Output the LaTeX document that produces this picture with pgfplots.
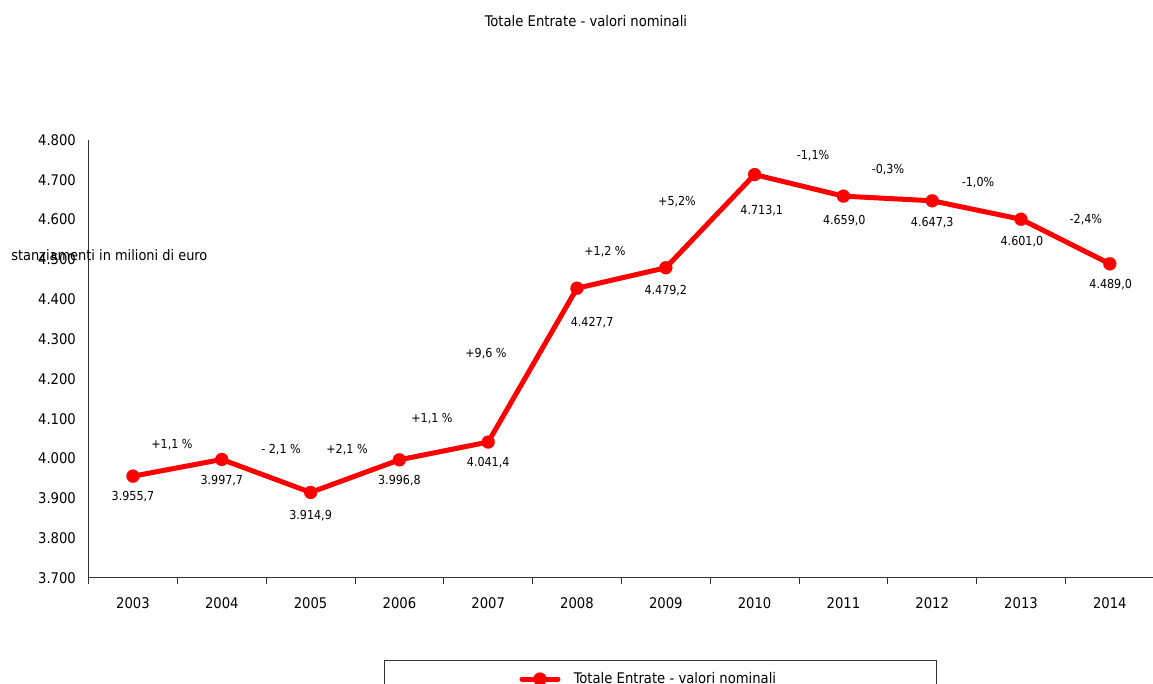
\documentclass[border=0pt]{standalone}
\usepackage{pgfplots}
\pgfplotsset{compat=1.18}
\usepackage{fontspec}
\setmainfont{DejaVu Sans Condensed}
\definecolor{serie}{HTML}{FF0000}
\begin{document}
\begin{tikzpicture}
\path[use as bounding box] (0pt,0pt) rectangle (864.75pt,513pt);
\node[font=\fontsize{11}{13}\selectfont] at (439.5pt,497.25pt) {Totale Entrate - valori nominali};
\begin{axis}[
  at={(66.45pt,79.5pt)}, anchor=south west,
  scale only axis, width=799.2pt, height=328.5pt,
  xmin=-0.5, xmax=11.5, ymin=3700, ymax=4800,
  clip=false,
  axis x line*=bottom, axis y line*=left,
  axis line style={black!80, line width=0.75pt},
  xtick={0,...,11},
  xticklabels={2003,2004,2005,2006,2007,2008,2009,2010,2011,2012,2013,2014},
  minor xtick={-0.5,0.5,...,11.5},
  ytick={3700,3800,...,4800},
  tick align=outside,
  major tick length=0pt,
  minor tick length=4.5pt,
  ytick style={black!80, line width=0.75pt},
  minor tick style={black!80, line width=0.75pt},
  yticklabel style={/pgf/number format/1000 sep={.}, /pgf/number format/assume math mode=true, xshift=-6pt, font=\fontsize{11}{13}\selectfont},
  xticklabel style={yshift=-11pt, font=\fontsize{11}{13}\selectfont},
  legend style={at={(0.2772,-0.1872)}, anchor=north west, draw=black!80, line width=0.75pt,
    inner xsep=101.25pt, inner ysep=7pt, font=\fontsize{11}{13}\selectfont},
  legend image code/.code={\draw[mark repeat=2,mark phase=2,#1] plot coordinates {(0pt,0pt) (13.5pt,0pt) (27pt,0pt)};},
]
\addplot[color=serie, line width=3.75pt, line join=round, line cap=round, mark=*, mark size=4.9pt, mark options={solid, fill=serie, draw=serie, line width=0.1pt}]
  coordinates {(0,3955.7) (1,3997.7) (2,3914.9) (3,3996.8) (4,4041.4) (5,4427.7) (6,4479.2) (7,4713.1) (8,4659.0) (9,4647.3) (10,4601.0) (11,4489.0)};
\addlegendentry{\kern8pt Totale Entrate - valori nominali\hspace*{17pt}\mbox{}}
% value labels
\begin{scope}[every node/.style={font=\fontsize{9.3}{11}\selectfont, inner sep=0pt}]
\node at (axis cs:0,3903.4) {3.955,7};
\node at (axis cs:1,3943.6) {3.997,7};
\node at (axis cs:2,3855.7) {3.914,9};
\node at (axis cs:3,3943.6) {3.996,8};
\node at (axis cs:4,3988.8) {4.041,4};
\node at (axis cs:5.17,4340.4) {4.427,7};
\node at (axis cs:6,4420.8) {4.479,2};
\node at (axis cs:7.08,4621.7) {4.713,1};
\node at (axis cs:8.01,4596.6) {4.659,0};
\node at (axis cs:9,4591.5) {4.647,3};
\node at (axis cs:10.01,4543.8) {4.601,0};
\node at (axis cs:11.01,4435.8) {4.489,0};
% percentage labels
\node at (axis cs:0.439,4034) {+1,1 \%};
\node at (axis cs:1.667,4021.5) {- 2,1 \%};
\node at (axis cs:2.41,4021.5) {+2,1 \%};
\node at (axis cs:3.367,4099.3) {+1,1 \%};
\node at (axis cs:3.975,4262.6) {+9,6 \%};
\node at (axis cs:5.315,4518.7) {+1,2 \%};
\node at (axis cs:6.126,4644.3) {+5,2\%};
\node at (axis cs:7.658,4759.8) {-1,1\%};
\node at (axis cs:8.502,4724.7) {-0,3\%};
\node at (axis cs:9.516,4692) {-1,0\%};
\node at (axis cs:10.73,4599) {-2,4\%};
\end{scope}
\end{axis}
\node[anchor=west, inner sep=0pt, font=\fontsize{10.8}{12}\selectfont] at (8.25pt,321.75pt) {stanziamenti in milioni di euro};
\end{tikzpicture}
\end{document}
